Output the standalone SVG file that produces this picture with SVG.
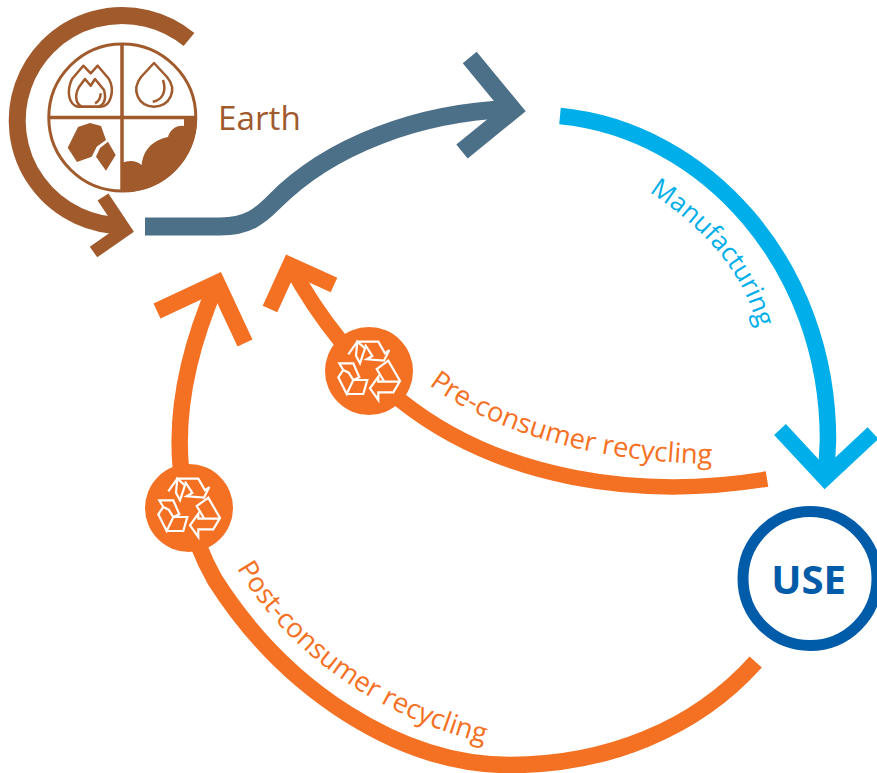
<svg xmlns="http://www.w3.org/2000/svg" width="877" height="773" viewBox="0 0 877 773">
<style>
.ln{fill:none;stroke-linejoin:miter;stroke-miterlimit:10}
.br{stroke:#a05a2c}.sl{stroke:#4d7089}.cy{stroke:#00aeea}.or{stroke:#f47023}
.lb{font-family:"Open Sans","Liberation Sans",sans-serif;font-size:27.3px}
.ic{fill:none;stroke:#a05a2c;stroke-width:2.5;stroke-linejoin:round}
.rc{fill:none;stroke:#fff;stroke-width:2.2;stroke-linejoin:miter}
</style>
<defs>
<g id="recycle">
<path class="rc" d="M-20.7-16.7L-11.7-29.3H9.3L16-17.7L20.3-21L15-10.3L-2.3-11.7L3.3-15L-4-26.5M-11.7-29.3L-4-22.7L-9-7.7L-13-15.3Z"/>
<path class="rc" d="M-25.7-1L-29.7-7.7H-15.7L-9.7 6.3L-15.7 9L-20.3 1.7L-25.7-1L-30.7 6.3L-22.3 23L-15.7 9H-1.7L-5.7 23H-22.3"/>
<path class="rc" d="M19.3-10.3L7.7-2L15.3 10.7H9.3V5.7L1 17.3L9.3 29V21.3H24.3L31 10ZM15.3 10.7H31"/>
</g>
</defs>
<g id="connectors">
<path class="ln br" stroke-width="17" d="M189 39.5A105 105 0 1 0 124.5 225.5"/>
<path class="ln br" stroke-width="13" d="M103 197L125 230L93.5 252"/>
<path class="ln sl" stroke-width="18" d="M145 226.500H220C248 226.500 260 216 274 202C330 145 420 112 513 109"/>
<path class="ln sl" stroke-width="18" d="M469.700 57.500L513 110L462 151.500"/>
<path class="ln cy" stroke-width="16.500" d="M560 116C705 130 828 265 828 440L826 478"/>
<path class="ln cy" stroke-width="16" d="M780 429.500L825 478L873 433"/>
<path class="ln or" stroke-width="15.500" d="M767 479C640 500 500 480 400 400C355 364 320 320 290 265"/>
<path class="ln or" stroke-width="16" d="M270 309L290 265L334 285"/>
<path class="ln or" stroke-width="16.500" d="M755.700 662C695 730 605 765 510 765C400 765 285 690 215 580C195 545 185 510 181 470C175 410 190 345 217 283"/>
<path class="ln or" stroke-width="16.500" d="M157 311L217 283L245 343"/>
</g>
<g id="earth">
<circle cx="122.300" cy="117.500" r="73.500" fill="none" stroke="#a05a2c" stroke-width="3"/>
<path fill="none" stroke="#a05a2c" stroke-width="3.500" d="M122 44V191"/>
<path fill="none" stroke="#a05a2c" stroke-width="3.700" d="M49 117.500H196"/>
<path fill="#a05a2c" d="M122 192V163C128 160 136 160 141.700 165C143 152 150 141 168 137C170 130 176 125 184 126V119H197C197 160 163 194 122 192Z"/>
<path fill="#a05a2c" d="M78 127L90 123L101 126L106 140L96.700 146.700L91.700 156.700L77 162L67.700 147.700Z"/>
<path fill="#a05a2c" d="M108 141.700L115.700 155L106 170.700L96 156.700L100 148Z"/>
<path class="ic" d="M83.300 65.700L90.700 73.300L97.700 65.700L109 79C115 90 111 107 100 106.700H78C69 105 66 92 72 79Z"/>
<path class="ic" d="M85 79L90.700 85.700L95 79L104 90C107 100 103 106 98 106.700H82C76 104 74 96 79 87Z"/>
<path class="ic" d="M100.700 93.300C100.500 98 98 102 95 103.300"/>
<path class="ic" d="M154 63L167 77C178 90 170 106 154 106.700C138 106 131 90 141 77Z"/>
<path class="ic" d="M163 80C167 92 162 100 152.700 101.700"/>
<text x="218" y="130" font-family="Open Sans,Liberation Sans,sans-serif" font-size="33.300" fill="#a05a2c">Earth</text>
</g>
<g id="manufacturing">
<path id="pm" fill="none" d="M649 192C695 222 735 262 752 310L772 370"/>
<text class="lb" style="font-size:26px" fill="#00aeea"><textPath href="#pm">Manufacturing</textPath></text>
</g>
<g id="pre-consumer">
<path id="pp" fill="none" d="M429 385C480 423 580 465 730 464"/>
<circle cx="369" cy="371" r="44" fill="#f47023"/>
<use href="#recycle" x="369" y="371"/>
<text class="lb" fill="#f47023"><textPath href="#pp">Pre-consumer recycling</textPath></text>
</g>
<g id="post-consumer">
<path id="pq" fill="none" d="M237 568C270 625 350 715 505 748"/>
<circle cx="189" cy="508" r="44" fill="#f47023"/>
<use href="#recycle" x="189" y="508"/>
<text class="lb" fill="#f47023"><textPath href="#pq">Post-consumer recycling</textPath></text>
</g>
<g id="use">
<circle cx="810" cy="578.500" r="67" fill="#fff" stroke="#005ba8" stroke-width="11"/>
<text x="808.500" y="594" text-anchor="middle" font-family="Open Sans,Liberation Sans,sans-serif" font-weight="700" font-size="40" fill="#005ba8">USE</text>
</g>
</svg>
